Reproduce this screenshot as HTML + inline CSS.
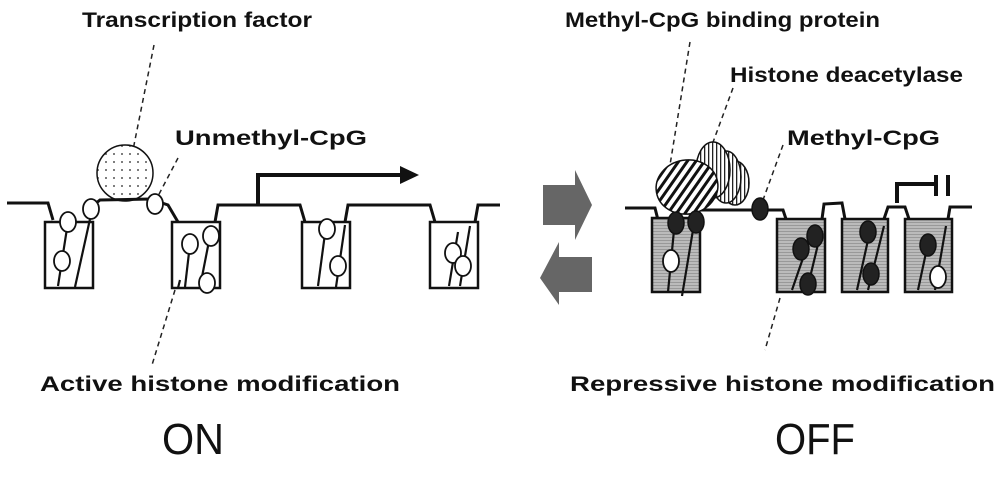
<!DOCTYPE html>
<html><head><meta charset="utf-8"><style>
html,body{margin:0;padding:0;background:#fff;}
svg{display:block;}
text{font-family:"Liberation Sans",Arial,sans-serif;fill:#111;}
.b{font-weight:bold;font-size:21px;}
</style></head><body>
<svg width="1000" height="485" viewBox="0 0 1000 485" xmlns="http://www.w3.org/2000/svg">
<defs>
<pattern id="dots" width="8" height="8" patternUnits="userSpaceOnUse"><circle cx="2" cy="2" r="0.9" fill="#222"/></pattern>
<pattern id="diag" width="7" height="7" patternUnits="userSpaceOnUse" patternTransform="rotate(45)"><rect width="7" height="7" fill="#fff"/><rect width="3" height="7" fill="#111"/></pattern>
<pattern id="vert" width="4" height="4" patternUnits="userSpaceOnUse"><rect width="4" height="4" fill="#fff"/><rect width="1.3" height="4" fill="#222"/></pattern>
<pattern id="gray" width="3" height="3" patternUnits="userSpaceOnUse"><rect width="3" height="3" fill="#bbb"/><rect width="3" height="1" fill="#999"/></pattern>
</defs>
<text class="b" x="82" y="27" textLength="230" lengthAdjust="spacingAndGlyphs">Transcription factor</text>
<text class="b" x="175" y="145" textLength="192" lengthAdjust="spacingAndGlyphs">Unmethyl-CpG</text>
<text class="b" x="40" y="391" textLength="360" lengthAdjust="spacingAndGlyphs">Active histone modification</text>
<text class="b" x="565" y="27" textLength="315" lengthAdjust="spacingAndGlyphs">Methyl-CpG binding protein</text>
<text class="b" x="730" y="82" textLength="233" lengthAdjust="spacingAndGlyphs">Histone deacetylase</text>
<text class="b" x="787" y="145" textLength="153" lengthAdjust="spacingAndGlyphs">Methyl-CpG</text>
<text class="b" x="570" y="391" textLength="425" lengthAdjust="spacingAndGlyphs">Repressive histone modification</text>
<text x="162" y="454" font-size="44" textLength="62" lengthAdjust="spacingAndGlyphs">ON</text>
<text x="775" y="454" font-size="44" textLength="80" lengthAdjust="spacingAndGlyphs">OFF</text>
<g stroke="#222" stroke-width="1.5" stroke-dasharray="5,4" fill="none">
<line x1="154" y1="45" x2="133" y2="150"/>
<line x1="178" y1="158" x2="157" y2="198"/>
<line x1="175" y1="290" x2="152" y2="365"/>
<line x1="690" y1="42" x2="670" y2="165"/>
<line x1="733" y1="88" x2="712" y2="145"/>
<line x1="783" y1="145" x2="763" y2="200"/>
<line x1="780" y1="298" x2="765" y2="350"/>
</g>
<g stroke="#111" stroke-width="3" fill="none">
<polyline points="7,203 48,203 53,220"/>
<polyline points="85,212 100,200 150,199 168,205 178,222"/>
<polyline points="215,222 218,205 300,205 305,222"/>
<polyline points="345,222 348,205 430,205 435,222"/>
<polyline points="475,222 478,205 500,205"/>
<polyline points="258,205 258,175 400,175" stroke-width="4"/>
</g>
<polygon points="400,166 419,175 400,184" fill="#111"/>
<g stroke="#111" stroke-width="2.5" fill="#fff">
<rect x="45" y="222" width="48" height="66"/>
<rect x="172" y="222" width="48" height="66"/>
<rect x="302" y="222" width="48" height="66"/>
<rect x="430" y="222" width="48" height="66"/>
</g>
<g stroke="#111" stroke-width="2.2">
<line x1="68" y1="222" x2="58" y2="286"/><line x1="92" y1="210" x2="75" y2="287"/>
<line x1="190" y1="244" x2="185" y2="287"/><line x1="210" y1="236" x2="200" y2="287"/><line x1="180" y1="280" x2="178" y2="288"/>
<line x1="326" y1="226" x2="318" y2="286"/><line x1="345" y1="225" x2="336" y2="287"/>
<line x1="458" y1="232" x2="449" y2="286"/><line x1="470" y1="226" x2="460" y2="286"/>
</g>
<circle cx="125" cy="173" r="28" fill="url(#dots)" stroke="#111" stroke-width="1.5"/>
<g stroke="#111" stroke-width="1.8" fill="#fff">
<ellipse cx="68" cy="222" rx="8" ry="10"/><ellipse cx="62" cy="261" rx="8" ry="10"/>
<ellipse cx="91" cy="209" rx="8" ry="10"/><ellipse cx="155" cy="204" rx="8" ry="10"/>
<ellipse cx="190" cy="244" rx="8" ry="10"/><ellipse cx="211" cy="236" rx="8" ry="10"/><ellipse cx="207" cy="283" rx="8" ry="10"/>
<ellipse cx="327" cy="229" rx="8" ry="10"/><ellipse cx="338" cy="266" rx="8" ry="10"/>
<ellipse cx="453" cy="253" rx="8" ry="10"/><ellipse cx="463" cy="266" rx="8" ry="10"/>
</g>
<polygon points="543,185 575,185 575,170 592,205 575,240 575,225 543,225" fill="#666"/>
<polygon points="592,257 559,257 559,242 540,278 559,305 559,292 592,292" fill="#666"/>
<g stroke="#111" stroke-width="3" fill="none">
<polyline points="625,208 655,208 658,220"/>
<polyline points="680,210 783,210 786,219"/>
<polyline points="822,219 824,204 842,203 845,219"/>
<polyline points="884,219 888,207 905,207 909,219"/>
<polyline points="948,219 950,207 972,207"/>
<polyline points="897,203 897,184 935,184" stroke-width="4"/>
<line x1="936" y1="175" x2="936" y2="196" stroke-width="4"/>
<line x1="948" y1="175" x2="948" y2="196" stroke-width="4"/>
</g>
<g stroke="#111" stroke-width="2.5" fill="url(#gray)">
<rect x="652" y="218" width="48" height="74"/>
<rect x="777" y="219" width="48" height="73"/>
<rect x="842" y="219" width="46" height="73"/>
<rect x="905" y="219" width="47" height="73"/>
</g>
<g stroke="#111" stroke-width="2.2">
<line x1="675" y1="220" x2="668" y2="292"/><line x1="695" y1="218" x2="682" y2="296"/>
<line x1="812" y1="232" x2="792" y2="290"/><line x1="820" y1="236" x2="807" y2="290"/>
<line x1="868" y1="240" x2="857" y2="290"/><line x1="884" y1="226" x2="868" y2="290"/>
<line x1="927" y1="248" x2="918" y2="290"/><line x1="946" y1="226" x2="935" y2="290"/>
</g>
<ellipse cx="735" cy="183" rx="14" ry="22" fill="url(#vert)" stroke="#111" stroke-width="1.5"/>
<ellipse cx="726" cy="177" rx="15" ry="26" fill="url(#vert)" stroke="#111" stroke-width="1.5"/>
<ellipse cx="713" cy="170" rx="17" ry="28" fill="url(#vert)" stroke="#111" stroke-width="1.5"/>
<ellipse cx="687" cy="187" rx="31" ry="27" fill="url(#diag)" stroke="#111" stroke-width="1.5" transform="rotate(-10 687 187)"/>
<g stroke="#111" stroke-width="1.5" fill="#222">
<ellipse cx="676" cy="223" rx="8" ry="11"/><ellipse cx="696" cy="222" rx="8" ry="11"/>
<ellipse cx="760" cy="209" rx="8" ry="11"/>
<ellipse cx="815" cy="236" rx="8" ry="11"/><ellipse cx="801" cy="249" rx="8" ry="11"/><ellipse cx="808" cy="284" rx="8" ry="11"/>
<ellipse cx="868" cy="232" rx="8" ry="11"/><ellipse cx="871" cy="274" rx="8" ry="11"/>
<ellipse cx="928" cy="245" rx="8" ry="11"/>
</g>
<g stroke="#111" stroke-width="1.8" fill="#fff">
<ellipse cx="671" cy="261" rx="8" ry="11"/><ellipse cx="938" cy="277" rx="8" ry="11"/>
</g>
</svg>
</body></html>
